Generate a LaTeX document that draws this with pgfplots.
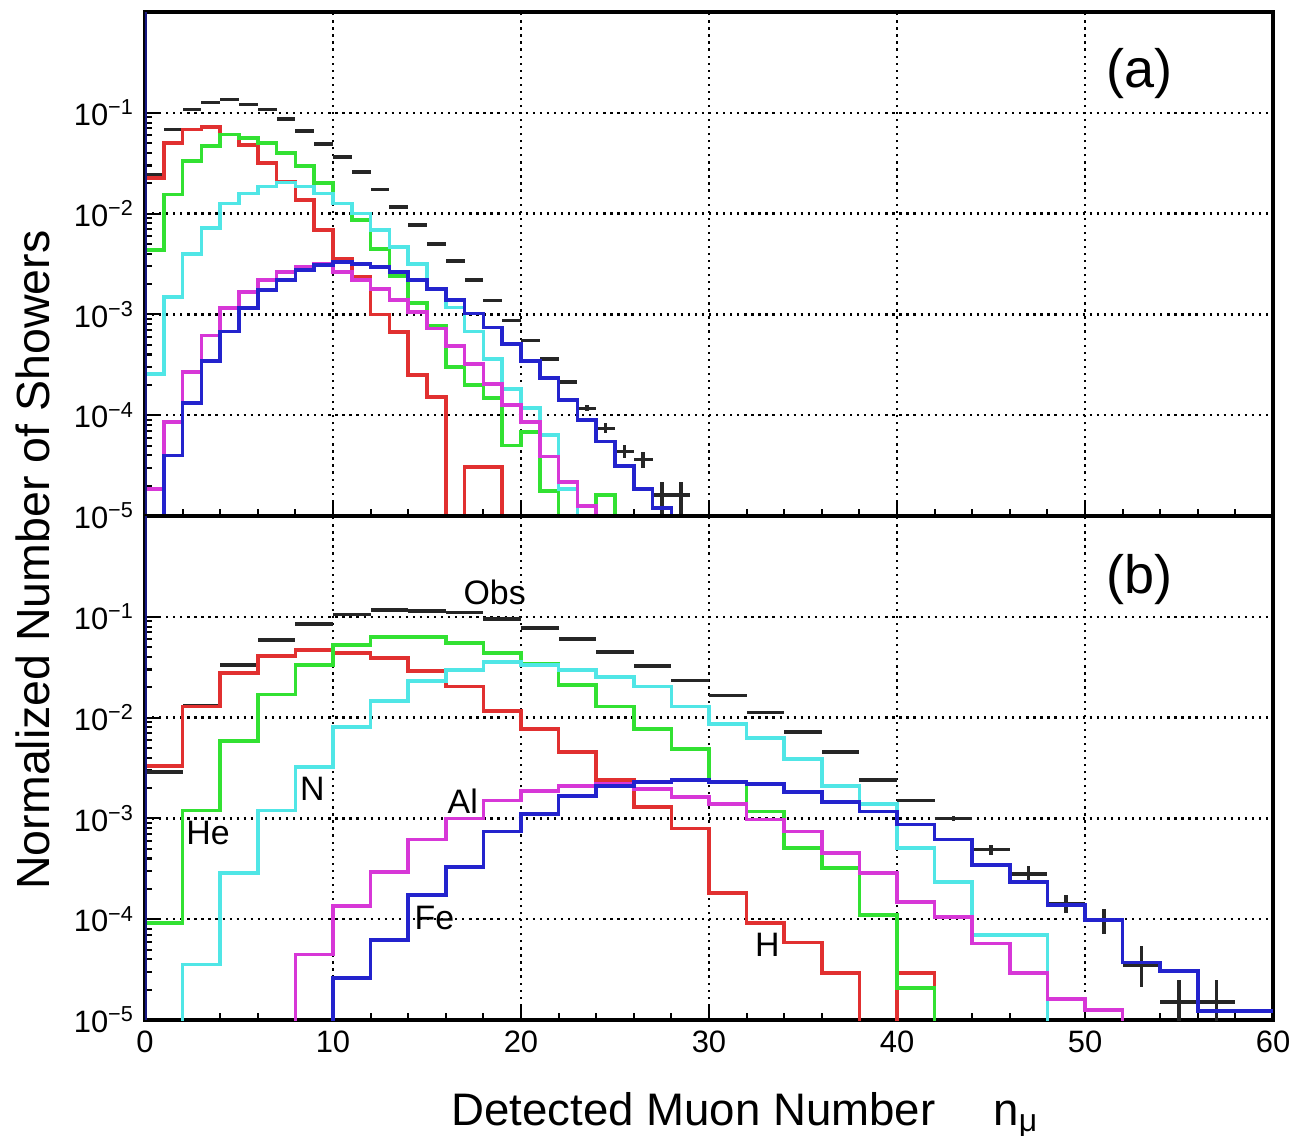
\documentclass[border=0pt]{standalone}
\usepackage{fontspec}
\setmainfont{Liberation Sans}
\usepackage{pgfplots}
\usepackage{pgfplotstable}
\pgfplotsset{compat=1.18}
\definecolor{hred}{RGB}{225,48,48}
\definecolor{hgreen}{RGB}{50,225,50}
\definecolor{hcyan}{RGB}{80,230,230}
\definecolor{hmag}{RGB}{215,55,215}
\definecolor{hblue}{RGB}{35,35,205}
\definecolor{navyax}{RGB}{25,25,130}

\pgfplotstableread{
x y ex eyp eym
0.5 0.024 0.5 0 0
1.5 0.0682 0.5 0 0
2.5 0.108 0.5 0 0
3.5 0.126 0.5 0 0
4.5 0.136 0.5 0 0
5.5 0.121 0.5 0 0
6.5 0.108 0.5 0 0
7.5 0.0871 0.5 0 0
8.5 0.0661 0.5 0 0
9.5 0.0490 0.5 0 0
10.5 0.0363 0.5 0 0
11.5 0.0257 0.5 0 0
12.5 0.0174 0.5 0 0
13.5 0.0117 0.5 0 0
14.5 0.00776 0.5 0 0
15.5 0.00501 0.5 0 0
16.5 0.00339 0.5 0 0
17.5 0.00219 0.5 0 0
18.5 0.00138 0.5 0 0
19.5 0.000871 0.5 0 0
20.5 0.000550 0.5 0 0
21.5 0.000363 0.5 0 0
22.5 0.000214 0.5 1.0e-5 1.0e-5
23.5 0.000117 0.5 8.4e-6 8.0e-6
24.5 7.41e-5 0.5 9.0e-6 8.1e-6
25.5 4.37e-5 0.5 7.2e-6 6.2e-6
26.5 3.63e-5 0.5 7.3e-6 6.1e-6
27.5 1.62e-5 0.5 5.7e-6 1.6e-5
28.5 1.62e-5 0.5 5.7e-6 1.6e-5
}\obsA

\pgfplotstableread{
x y ex eyp eym
1 0.00288 1 0 0
3 0.0132 1 0 0
5 0.0331 1 0 0
7 0.0589 1 0 0
9 0.0851 1 0 0
11 0.105 1 0 0
13 0.117 1 0 0
15 0.115 1 0 0
17 0.110 1 0 0
19 0.0955 1 0 0
21 0.0776 1 0 0
23 0.0603 1 0 0
25 0.0447 1 0 0
27 0.0324 1 0 0
29 0.0234 1 0 0
31 0.0166 1 0 0
33 0.0112 1 0 0
35 0.00724 1 0 0
37 0.00457 1 0 0
39 0.00240 1 0 0
41 0.00151 1 0 0
43 0.00100 1 6.0e-5 5.0e-5
45 0.000490 1 6.0e-5 5.3e-5
47 0.000282 1 5.5e-5 4.3e-5
49 0.000141 1 3.2e-5 2.7e-5
51 9.77e-5 1 3.0e-5 2.6e-5
53 3.47e-5 1 2.0e-5 1.36e-5
55 1.51e-5 1 1.0e-5 1.5e-5
57 1.51e-5 1 1.0e-5 1.5e-5
}\obsB

\begin{document}
\begin{tikzpicture}
\path[use as bounding box] (-48.33pt,-38.33pt) rectangle (382pt,340pt);

% ---------------- panel (a) ----------------
\begin{axis}[
    width=376pt, height=168pt, scale only axis,
    at={(0pt,168pt)}, anchor=south west,
    xmin=0, xmax=60, ymode=log, ymin=1e-5, ymax=1,
    xtick={0,10,20,30,40,50,60}, minor x tick num=4,
    xticklabels={},
    ytick={1e-5,1e-4,1e-3,1e-2,1e-1},
    yticklabels={10\textsuperscript{−5},10\textsuperscript{−4},10\textsuperscript{−3},10\textsuperscript{−2},10\textsuperscript{−1}},
    tick pos=left, tick align=inside,
    major tick length=5.5pt, minor tick length=2.5pt,
    xmajorgrids, ymajorgrids,
    grid style={black, line width=0.75pt, dash pattern=on 0.75pt off 1.6pt},
    axis line style={black, line width=1.3pt},
    tick style={black, line width=0.7pt},
    tick label style={font=\fontsize{10.3}{12}\selectfont},
  ]
\addplot[draw=none, mark=none, error bars/.cd, x dir=both, x explicit, y dir=both, y explicit, error mark=none, error bar style={draw=black!85, solid, line width=1.2pt}] table[x=x, y=y, x error=ex, y error plus=eyp, y error minus=eym] {\obsA};
\addplot[const plot, line width=1.25pt, hred] coordinates {(0,0.0225)(1,0.0502)(2,0.0682)(3,0.0719)(4,0.0608)(5,0.0483)(6,0.0318)(7,0.0208)(8,0.0137)(9,0.00692)(10,0.00357)(11,0.00234)(12,0.00100)(13,0.000668)(14,0.000251)(15,0.000151)(16,1e-7)(17,3.09e-5)(18,3.09e-5)(19,1e-7)(20,1e-7)};
\addplot[const plot, line width=1.25pt, hgreen] coordinates {(0,0.00437)(1,0.0155)(2,0.0331)(3,0.0468)(4,0.0608)(5,0.0562)(6,0.0501)(7,0.0398)(8,0.0295)(9,0.0200)(10,0.0126)(11,0.00871)(12,0.00447)(13,0.00240)(14,0.00129)(15,0.000776)(16,0.000302)(17,0.000200)(18,0.000148)(19,5.01e-5)(20,6.76e-5)(21,1.78e-5)(22,1e-7)(23,1e-7)(24,1.62e-5)(25,1e-7)(26,1e-7)};
\addplot[const plot, line width=1.25pt, hcyan] coordinates {(0,0.000257)(1,0.00148)(2,0.00398)(3,0.00715)(4,0.0126)(5,0.0158)(6,0.0186)(7,0.0204)(8,0.0186)(9,0.0158)(10,0.0126)(11,0.0100)(12,0.00692)(13,0.00468)(14,0.00316)(15,0.00178)(16,0.00117)(17,0.000676)(18,0.000363)(19,0.000182)(20,0.000117)(21,6.31e-5)(22,1.86e-5)(23,1e-7)(24,1e-7)};
\addplot[const plot, line width=1.25pt, hmag] coordinates {(0,1.86e-5)(1,8.51e-5)(2,0.000269)(3,0.000617)(4,0.00115)(5,0.00166)(6,0.00219)(7,0.00263)(8,0.00295)(9,0.00316)(10,0.00263)(11,0.00219)(12,0.00178)(13,0.00138)(14,0.00105)(15,0.000724)(16,0.000490)(17,0.000324)(18,0.000204)(19,0.000126)(20,8.51e-5)(21,3.89e-5)(22,2.19e-5)(23,1.26e-5)(24,1e-7)(25,1e-7)};
\addplot[const plot, line width=1.25pt, hblue] coordinates {(0,1e-7)(1,3.98e-5)(2,0.000132)(3,0.000347)(4,0.000676)(5,0.00115)(6,0.00174)(7,0.00219)(8,0.00275)(9,0.00309)(10,0.00331)(11,0.00316)(12,0.00295)(13,0.00263)(14,0.00219)(15,0.00178)(16,0.00138)(17,0.00102)(18,0.000741)(19,0.000513)(20,0.000347)(21,0.000234)(22,0.000141)(23,8.91e-5)(24,5.50e-5)(25,3.16e-5)(26,1.86e-5)(27,1.20e-5)(28,1e-7)(29,1e-7)};
\draw[navyax, line width=1.5pt] (rel axis cs:0,0) -- (rel axis cs:0,1);
\node[font=\fontsize{18}{20}\selectfont] at (axis cs:52.9,0.243) {(a)};
\end{axis}

% ---------------- panel (b) ----------------
\begin{axis}[
    width=376pt, height=168pt, scale only axis,
    at={(0pt,0pt)}, anchor=south west,
    xmin=0, xmax=60, ymode=log, ymin=1e-5, ymax=1,
    xtick={0,10,20,30,40,50,60}, minor x tick num=4,
    xticklabels={0,10,20,30,40,50,60},
    ytick={1e-5,1e-4,1e-3,1e-2,1e-1},
    yticklabels={10\textsuperscript{−5},10\textsuperscript{−4},10\textsuperscript{−3},10\textsuperscript{−2},10\textsuperscript{−1}},
    tick pos=left, tick align=inside,
    major tick length=5.5pt, minor tick length=2.5pt,
    xmajorgrids, ymajorgrids,
    grid style={black, line width=0.75pt, dash pattern=on 0.75pt off 1.6pt},
    axis line style={black, line width=1.3pt},
    tick style={black, line width=0.7pt},
    tick label style={font=\fontsize{10.3}{12}\selectfont},
  ]
\addplot[draw=none, mark=none, error bars/.cd, x dir=both, x explicit, y dir=both, y explicit, error mark=none, error bar style={draw=black!85, solid, line width=1.2pt}] table[x=x, y=y, x error=ex, y error plus=eyp, y error minus=eym] {\obsB};
\addplot[const plot, line width=1.25pt, hred] coordinates {(0,0.00331)(2,0.0129)(4,0.0275)(6,0.0407)(8,0.0468)(10,0.0437)(12,0.0389)(14,0.0288)(16,0.0204)(18,0.0117)(20,0.00776)(22,0.00457)(24,0.00240)(26,0.00129)(28,0.000794)(30,0.000182)(32,9.12e-5)(34,5.89e-5)(36,2.95e-5)(38,1e-7)(40,2.95e-5)(42,1e-7)(44,1e-7)};
\addplot[const plot, line width=1.25pt, hgreen] coordinates {(0,9.12e-5)(2,0.00120)(4,0.00589)(6,0.0170)(8,0.0331)(10,0.0525)(12,0.0631)(14,0.0631)(16,0.0550)(18,0.0437)(20,0.0339)(22,0.0209)(24,0.0129)(26,0.00776)(28,0.00490)(30,0.00229)(32,0.00117)(34,0.000513)(36,0.000324)(38,0.000110)(40,2.09e-5)(42,1e-7)(44,1e-7)};
\addplot[const plot, line width=1.25pt, hcyan] coordinates {(0,1e-7)(2,3.55e-5)(4,0.000288)(6,0.00120)(8,0.00324)(10,0.00813)(12,0.0145)(14,0.0229)(16,0.0295)(18,0.0355)(20,0.0331)(22,0.0295)(24,0.0251)(26,0.0204)(28,0.0129)(30,0.00871)(32,0.00631)(34,0.00389)(36,0.00209)(38,0.00138)(40,0.000513)(42,0.000234)(44,6.92e-5)(46,6.92e-5)(48,1e-7)(50,1e-7)};
\addplot[const plot, line width=1.25pt, hmag] coordinates {(0,1e-7)(8,1e-7)(8,4.47e-5)(10,0.000135)(12,0.000295)(14,0.000617)(16,0.00100)(18,0.00151)(20,0.00186)(22,0.00209)(24,0.00219)(26,0.00195)(28,0.00162)(30,0.00138)(32,0.000977)(34,0.000741)(36,0.000457)(38,0.000288)(40,0.000148)(42,0.000105)(44,5.75e-5)(46,2.95e-5)(48,1.62e-5)(50,1.26e-5)(52,1e-7)(54,1e-7)};
\addplot[const plot, line width=1.25pt, hblue] coordinates {(0,1e-7)(10,1e-7)(10,2.63e-5)(12,6.17e-5)(14,0.000174)(16,0.000331)(18,0.000741)(20,0.00110)(22,0.00166)(24,0.00209)(26,0.00229)(28,0.00240)(30,0.00229)(32,0.00219)(34,0.00182)(36,0.00145)(38,0.00117)(40,0.000871)(42,0.000617)(44,0.000347)(46,0.000234)(48,0.000138)(50,9.77e-5)(52,3.72e-5)(54,3.09e-5)(56,1.23e-5)(58,1.23e-5)(60,1.23e-5)};
\draw[navyax, line width=1.5pt] (rel axis cs:0,0) -- (rel axis cs:0,1);
\node[font=\fontsize{18}{20}\selectfont] at (axis cs:52.9,0.237) {(b)};
\node[font=\fontsize{11.3}{13}\selectfont] at (axis cs:18.6,0.176) {Obs};
\node[font=\fontsize{11.3}{13}\selectfont] at (axis cs:3.35,7.24e-4) {He};
\node[font=\fontsize{11.3}{13}\selectfont] at (axis cs:8.9,1.95e-3) {N};
\node[font=\fontsize{11.3}{13}\selectfont] at (axis cs:16.9,1.48e-3) {Al};
\node[font=\fontsize{11.3}{13}\selectfont] at (axis cs:15.4,1.02e-4) {Fe};
\node[font=\fontsize{11.3}{13}\selectfont] at (axis cs:33.1,5.62e-5) {H};
\end{axis}

\node[rotate=90, anchor=base, font=\fontsize{15.5}{17}\selectfont] at (-31.7pt,153.3pt) {Normalized Number of Showers};
\node[anchor=base west, font=\fontsize{15.2}{17}\selectfont] at (98.6pt,-35pt) {Detected Muon Number};
\node[anchor=base west, font=\fontsize{15.2}{17}\selectfont] at (279.3pt,-35pt) {n\textsubscript{μ}};
\end{tikzpicture}
\end{document}
